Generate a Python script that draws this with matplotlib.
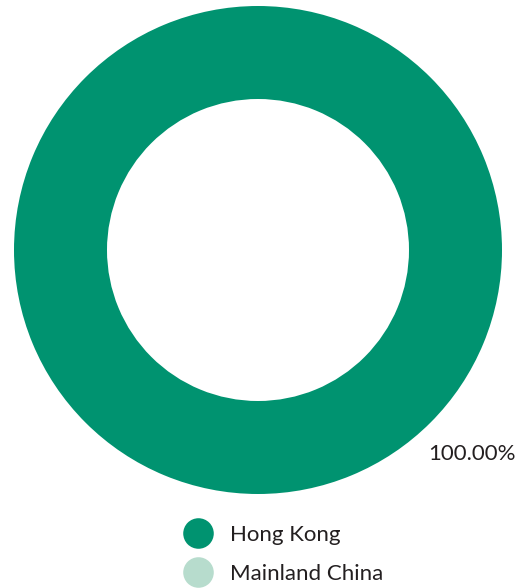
import matplotlib.pyplot as plt
from matplotlib.lines import Line2D

regions = ['Hong Kong', 'Mainland China']
shares = [100.0, 0.0]
colors = ['#009370', '#b7dccd']

plt.rcParams['font.family'] = ['Lato', 'DejaVu Sans']

fig = plt.figure(figsize=(5.19, 5.88), dpi=100)
ax = fig.add_axes([0, 0, 1, 1])

# donut, drawn in pixel-like data units
ax.pie(shares, colors=colors, center=(258, 250), radius=244,
       startangle=90, counterclock=False,
       wedgeprops=dict(width=93, linewidth=0), frame=True)
ax.set_xlim(0, 519)
ax.set_ylim(588, 0)
ax.set_aspect('equal')
ax.axis('off')

ax.text(428, 454, f'{shares[0]:.2f}%', fontsize=16, color='#231f20',
        va='center', ha='left')

handles = [Line2D([], [], marker='o', linestyle='none', markersize=22,
                  markerfacecolor=c, markeredgewidth=0) for c in colors]
fig.legend(handles, regions, loc='upper left', bbox_to_anchor=(172 / 519, 1 - 514 / 588),
           frameon=False, fontsize=16, labelcolor='#231f20',
           handletextpad=0.75, labelspacing=0.85, borderpad=0, handlelength=1.34)

fig.savefig('out.png', dpi=100)
